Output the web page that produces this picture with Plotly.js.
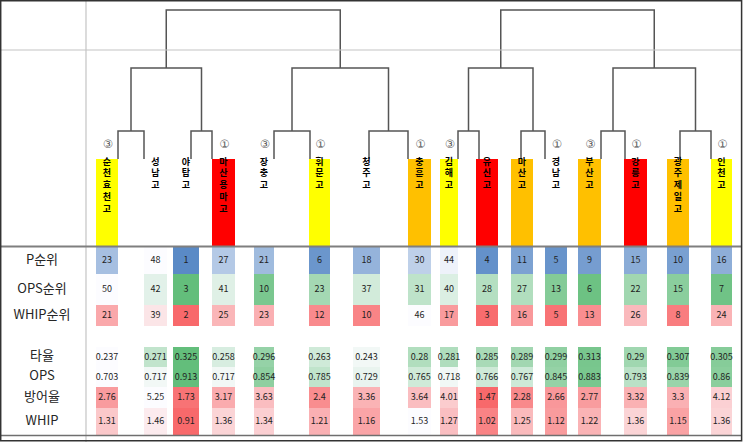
<!DOCTYPE html>
<html>
<head>
<meta charset="utf-8">
<script src="https://cdn.plot.ly/plotly-3.0.1.min.js"></script>
<style>html,body{margin:0;padding:0;background:#fff;}#chart{width:743px;height:442px;}</style>
</head>
<body>
<div id="chart"></div>
<script>
// ---------------- DATA ----------------
const teams = ['순천효천고','성남고','야탑고','마산용마고','장충고','휘문고','청주고','충훈고','김해고','유신고','마산고','경남고','부산고','강릉고','광주제일고','인천고'];
const teamGroup = ['Y','','','R','','Y','','O','Y','R','O','','O','R','O','Y'];
const seedMarks = ['③','','','①','③','①','','①','③','','','①','③','①','','①'];
const rowLabels = ['P순위','OPS순위','WHIP순위','타율','OPS','방어율','WHIP'];
const pRank    = [23,48,1,27,21,6,18,30,44,4,11,5,9,15,10,16];
const opsRank  = [50,42,3,41,10,23,37,31,40,28,27,13,6,22,15,7];
const whipRank = [21,39,2,25,23,12,10,46,17,3,16,5,13,26,8,24];
const avg      = [0.237,0.271,0.325,0.258,0.296,0.263,0.243,0.28,0.281,0.285,0.289,0.299,0.313,0.29,0.307,0.305];
const ops      = [0.703,0.717,0.913,0.717,0.854,0.785,0.729,0.765,0.718,0.766,0.767,0.845,0.883,0.793,0.839,0.86];
const era      = [2.76,5.25,1.73,3.17,3.63,2.4,3.36,3.64,4.01,1.47,2.28,2.66,2.77,3.32,3.3,4.12];
const whip     = [1.31,1.46,0.91,1.36,1.34,1.21,1.16,1.53,1.27,1.02,1.25,1.12,1.22,1.36,1.15,1.36];

// ---------------- LAYOUT / STYLE ----------------
const COL_L = [96,144,173,212,254,309,353,408,440,476,511,545,578,624,667,711];
const COL_R = [118,167,199,235,274,330,380,431,458,498,533,567,601,647,689,732];
const BRACKET_X = [118,144,191,212,274,310,369,408,458,479,521,545,601,625,680,711];
const ROUND_Y = [131,68,10];
const TEAM_TOP = 159, TEAM_BOTTOM = 247;
const ROW_BANDS = [[247,274],[274,305],[305,326],[347,367],[367,387],[387,408],[408,435]];
const LABEL_X = 42;
const SEED_Y = 145;
const NAME_Y = 158;
const FONT = '"Noto Sans CJK KR", "Noto Sans", sans-serif';
const GROUP_COLORS = {Y:'#FFFF00', R:'#FF0000', O:'#FFC000', '':'rgba(0,0,0,0)'};
const BLUE = [[0,'#5A8AC6'],[1,'#FCFCFF']];
const GREEN_LOW = [[0,'#63BE7B'],[1,'#FCFCFF']];
const RED_LOW = [[0,'#F8696B'],[1,'#FCFCFF']];
const GREEN_HIGH = [[0,'#FCFCFF'],[1,'#63BE7B']];

const rows = [pRank, opsRank, whipRank, avg, ops, era, whip];
const rowScales = [BLUE, GREEN_LOW, RED_LOW, GREEN_HIGH, GREEN_HIGH, RED_LOW, RED_LOW];

const centers = COL_L.map((l,i)=>(l+COL_R[i])/2);
const widths = COL_L.map((l,i)=>COL_R[i]-l);

const traces = [];

// team colour band
traces.push({
  type:'bar', x:centers, width:widths, base:teams.map(()=>TEAM_TOP),
  y:teams.map(()=>TEAM_BOTTOM-TEAM_TOP),
  marker:{color:teamGroup.map(g=>GROUP_COLORS[g]), line:{width:0}},
  hoverinfo:'skip', showlegend:false
});

// heatmap rows
const xEdges = [];
COL_L.forEach((l,i)=>{xEdges.push(l, COL_R[i]);});
rows.forEach((vals,r)=>{
  const z = [];
  vals.forEach((v,i)=>{ z.push(v); if(i<vals.length-1) z.push(null); });
  traces.push({
    type:'heatmap', x:xEdges, y:ROW_BANDS[r], z:[z],
    zmin:Math.min(...vals), zmax:Math.max(...vals),
    colorscale:rowScales[r], showscale:false, hoverinfo:'skip', xgap:0, ygap:0
  });
});

// bracket lines
const bx=[], by=[];
let nodes = BRACKET_X.map(x=>({x:x, y:TEAM_TOP}));
ROUND_Y.forEach(yr=>{
  const next=[];
  for(let i=0;i<nodes.length;i+=2){
    const a=nodes[i], b=nodes[i+1];
    bx.push(a.x,a.x,b.x,b.x,null);
    by.push(a.y,yr,yr,b.y,null);
    next.push({x:(a.x+b.x)/2, y:yr});
  }
  nodes = next;
});
traces.push({type:'scatter', mode:'lines', x:bx, y:by, line:{color:'#555555', width:1.5},
  hoverinfo:'skip', showlegend:false, cliponaxis:false});

// cell numbers
const nx=[], ny=[], nt=[];
rows.forEach((vals,r)=>{
  vals.forEach((v,i)=>{ nx.push(centers[i]); ny.push((ROW_BANDS[r][0]+ROW_BANDS[r][1])/2+0.5); nt.push(String(v)); });
});
traces.push({type:'scatter', mode:'text', x:nx, y:ny, text:nt, textposition:'middle center',
  textfont:{family:FONT, size:9, color:'#1f1f1f'}, hoverinfo:'skip', showlegend:false, cliponaxis:false});

// row labels
traces.push({type:'scatter', mode:'text', x:rowLabels.map(()=>LABEL_X),
  y:ROW_BANDS.map(b=>(b[0]+b[1])/2), text:rowLabels, textposition:'middle center',
  textfont:{family:FONT, size:13, color:'#262626'}, hoverinfo:'skip', showlegend:false, cliponaxis:false});

// seed marks
const sx=[], sy=[], st=[];
seedMarks.forEach((m,i)=>{ if(m){ sx.push(centers[i]+1); sy.push(SEED_Y); st.push(m); } });
traces.push({type:'scatter', mode:'text', x:sx, y:sy, text:st, textposition:'middle center',
  textfont:{family:'"DejaVu Sans", ' + FONT, size:11.5, color:'#595959'}, hoverinfo:'skip', showlegend:false, cliponaxis:false});

// team names (vertical, one char per line)
traces.push({type:'scatter', mode:'text', x:centers, y:teams.map(()=>NAME_Y),
  text:teams.map(n=>Array.from(n).join('<br>')), textposition:'bottom center',
  textfont:{family:FONT, size:9, color:'#000000', weight:'bold'}, hoverinfo:'skip', showlegend:false, cliponaxis:false});

const shapes = [
  {type:'line', xref:'x', yref:'y', x0:0, x1:742, y0:50, y1:50, line:{color:'#c4c4c4', width:1.2}, layer:'above'},
  {type:'line', xref:'x', yref:'y', x0:86, x1:86, y0:0, y1:442, line:{color:'#c4c4c4', width:1.2}, layer:'above'},
  {type:'line', xref:'x', yref:'y', x0:0, x1:742, y0:246.5, y1:246.5, line:{color:'#7f7f7f', width:2}, layer:'above'},
  {type:'line', xref:'x', yref:'y', x0:0, x1:742, y0:435.5, y1:435.5, line:{color:'#6f6f6f', width:1.5}, layer:'above'},
  {type:'rect', xref:'x', yref:'y', x0:0.7, x1:741.6, y0:0.7, y1:440.8, line:{color:'#333333', width:1.5}, layer:'above'}
];

const layout = {
  width:743, height:442, margin:{l:0,r:0,t:0,b:0,pad:0},
  paper_bgcolor:'#ffffff', plot_bgcolor:'#ffffff',
  xaxis:{range:[0,743], visible:false, fixedrange:true},
  yaxis:{range:[442,0], visible:false, fixedrange:true},
  showlegend:false, shapes:shapes, bargap:0
};
Plotly.newPlot('chart', traces, layout, {displayModeBar:false, staticPlot:true});
</script>
</body>
</html>
